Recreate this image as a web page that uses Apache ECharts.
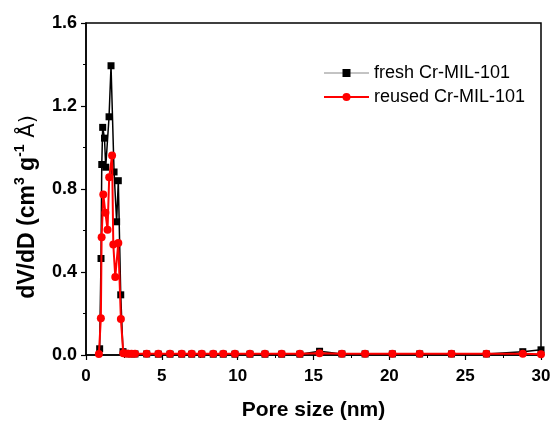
<!DOCTYPE html>
<html>
<head>
<meta charset="utf-8">
<script src="https://cdn.jsdelivr.net/npm/echarts@6/dist/echarts.min.js"></script>
<style>
  html, body { margin: 0; padding: 0; background: #fff; }
  #main { width: 554px; height: 423px; }
</style>
</head>
<body>
<div id="main"></div>
<script>
// pore size (nm) and dV/dD
const freshX = [0.90, 0.99, 1.04, 1.10, 1.22, 1.30, 1.52, 1.65, 1.85, 2.02, 2.13, 2.29, 2.44,
  2.6, 2.8, 3.0, 3.23, 4.0, 4.77, 5.54, 6.31, 6.97, 7.63, 8.39, 9.05, 9.82, 10.81, 11.8, 12.9,
  14.1, 15.4, 16.87, 18.4, 20.2, 22.0, 24.1, 26.4, 28.8, 30]
const freshY = [0.03, 0.465, 0.918, 1.097, 1.045, 0.905, 1.148, 1.394, 0.882, 0.642, 0.84, 0.29, 0.016,
  0.008, 0.006, 0.006, 0.005, 0.005, 0.004, 0.004, 0.004, 0.004, 0.004, 0.004, 0.004, 0.004, 0.004, 0.004, 0.004,
  0.004, 0.018, 0.005, 0.005, 0.005, 0.005, 0.005, 0.005, 0.016, 0.025]

const reusedX = [0.85, 0.98, 1.03, 1.14, 1.28, 1.42, 1.53, 1.72, 1.80, 1.93, 2.13, 2.30, 2.46,
  2.6, 2.8, 3.0, 3.23, 4.0, 4.77, 5.54, 6.31, 6.97, 7.63, 8.39, 9.05, 9.82, 10.81, 11.8, 12.9,
  14.1, 15.4, 16.87, 18.4, 20.2, 22.0, 24.1, 26.4, 28.8, 30]
const reusedY = [0.005, 0.177, 0.567, 0.773, 0.685, 0.604, 0.857, 0.962, 0.532, 0.376, 0.54, 0.173, 0.008,
  0.007, 0.006, 0.006, 0.006, 0.006, 0.006, 0.006, 0.006, 0.006, 0.006, 0.006, 0.006, 0.006, 0.006, 0.006, 0.006,
  0.006, 0.008, 0.006, 0.006, 0.006, 0.006, 0.006, 0.006, 0.006, 0.004]

const seriesNames = ['fresh Cr-MIL-101', 'reused Cr-MIL-101']

const zip = (xs, ys) => xs.map((x, i) => [x, ys[i]])

const font = 'Liberation Sans, Arial, sans-serif'

const chart = echarts.init(document.getElementById('main'))

chart.setOption({
  animation: false,
  grid: {
    left: 86, right: 13, top: 23, bottom: 68,
    outerBoundsMode: 'none',
    show: true,
    borderColor: '#000',
    borderWidth: 1.5
  },
  legend: {
    orient: 'vertical',
    left: 323,
    top: 64,
    padding: 0,
    itemWidth: 45,
    itemHeight: 10,
    itemGap: 6,
    textStyle: { fontFamily: font, fontSize: 18, color: '#000' },
    data: [
      { name: seriesNames[0], lineStyle: { color: '#888', width: 1 } },
      { name: seriesNames[1] }
    ]
  },
  xAxis: {
    type: 'value',
    min: 0,
    max: 30,
    interval: 5,
    name: 'Pore size (nm)',
    nameLocation: 'middle',
    nameGap: 45,
    nameTextStyle: { fontFamily: font, fontSize: 21, fontWeight: 'bold', color: '#000' },
    axisLine: { lineStyle: { color: '#000', width: 1.5 } },
    axisTick: { length: 5, lineStyle: { color: '#000', width: 1.2 } },
    minorTick: { show: true, splitNumber: 2, length: 3, lineStyle: { color: '#000' } },
    splitLine: { show: false },
    axisLabel: { fontFamily: font, fontSize: 17, fontWeight: 'bold', color: '#000', margin: 13 }
  },
  yAxis: {
    type: 'value',
    min: 0,
    max: 1.6,
    interval: 0.4,
    name: '{b|dV/dD (cm}{s|3}{b| g}{s|-1}{a| Å)}',
    nameLocation: 'middle',
    nameRotate: 90,
    nameGap: 47,
    nameTextStyle: {
      padding: [0, 36, 0, 0],
      rich: {
        b: { fontFamily: font, fontSize: 23, fontWeight: 'bold', color: '#000', lineHeight: 26, verticalAlign: 'bottom' },
        s: { fontFamily: font, fontSize: 14, fontWeight: 'bold', color: '#000', lineHeight: 26, verticalAlign: 'top' },
        a: { fontFamily: 'DejaVu Sans, sans-serif', fontSize: 21, color: '#000', lineHeight: 26, verticalAlign: 'bottom' }
      }
    },
    axisLine: { lineStyle: { color: '#000', width: 1.5 } },
    axisTick: { length: 5, lineStyle: { color: '#000', width: 1.2 } },
    minorTick: { show: true, splitNumber: 2, length: 3, lineStyle: { color: '#000' } },
    splitLine: { show: false },
    axisLabel: {
      fontFamily: font, fontSize: 18, fontWeight: 'bold', color: '#000', margin: 9,
      formatter: v => v.toFixed(1)
    }
  },
  series: [
    {
      name: seriesNames[0],
      type: 'line',
      data: zip(freshX, freshY),
      symbol: 'rect',
      symbolSize: 7,
      itemStyle: { color: '#000' },
      lineStyle: { color: '#000', width: 1.5 },
      z: 2
    },
    {
      name: seriesNames[1],
      type: 'line',
      data: zip(reusedX, reusedY),
      symbol: 'circle',
      symbolSize: 8,
      itemStyle: { color: '#ff0000' },
      lineStyle: { color: '#ff0000', width: 2 },
      z: 3
    }
  ]
})
</script>
</body>
</html>
